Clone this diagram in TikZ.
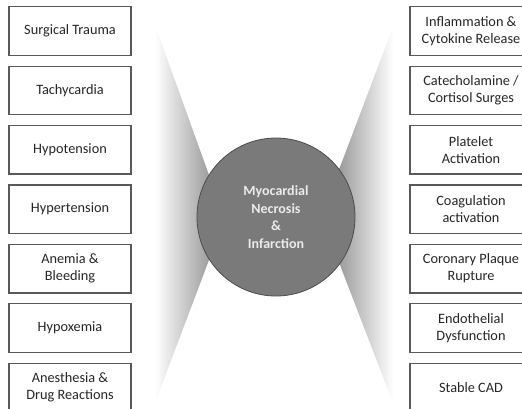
\documentclass[tikz,border=0pt]{standalone}
\usepackage{fontspec}
\setmainfont{Carlito}
\usetikzlibrary{positioning}
\tikzset{
    factor/.style={draw=black!65, line width=1.3pt, fill=white, minimum width=122pt, minimum height=48.5pt, inner sep=0pt, align=center, text=black!85, font=\fontsize{14.3}{17}\selectfont},
    core/.style={circle, draw=black!70, line width=0.8pt, fill=black!52, minimum size=158pt, inner sep=0pt, align=center, text=black!8, font=\bfseries\fontsize{14}{17.5}\selectfont},
    node distance=59.4pt
}

\begin{document}
\begin{tikzpicture}[x=1pt, y=-1pt, node distance=59.4pt, on grid]
  \useasboundingbox (0,0) rectangle (522,408);

  % shaded wedges behind the circle
  \shade[left color=white, right color=black!60] (155,25) -- (209,175) -- (240,217) -- (209,260) -- (155,403) -- cycle;
  \shade[left color=black!60, right color=white] (393,27) -- (340,167) -- (310,217) -- (340,265) -- (393,403) -- cycle;

  \node[core] (mi) at (276,217) {Myocardial\\Necrosis\\\&\\Infarction};

  % left column
  \node[factor] (l1) at (70,31) {Surgical Trauma};
  \node[factor, below = of l1] (l2) {Tachycardia};
  \node[factor, below = of l2] (l3) {Hypotension};
  \node[factor, below = of l3] (l4) {Hypertension};
  \node[factor, below = of l4] (l5) {Anemia \&\\Bleeding};
  \node[factor, below = of l5] (l6) {Hypoxemia};
  \node[factor, below = of l6] (l7) {Anesthesia \&\\Drug Reactions};

  % right column
  \node[factor] (r1) at (471,31) {Inflammation \&\\Cytokine Release};
  \node[factor, below = of r1] (r2) {Catecholamine /\\Cortisol Surges};
  \node[factor, below = of r2] (r3) {Platelet\\Activation};
  \node[factor, below = of r3] (r4) {Coagulation\\activation};
  \node[factor, below = of r4] (r5) {Coronary Plaque\\Rupture};
  \node[factor, below = of r5] (r6) {Endothelial\\Dysfunction};
  \node[factor, below = of r6] (r7) {Stable CAD};
\end{tikzpicture}
\end{document}
